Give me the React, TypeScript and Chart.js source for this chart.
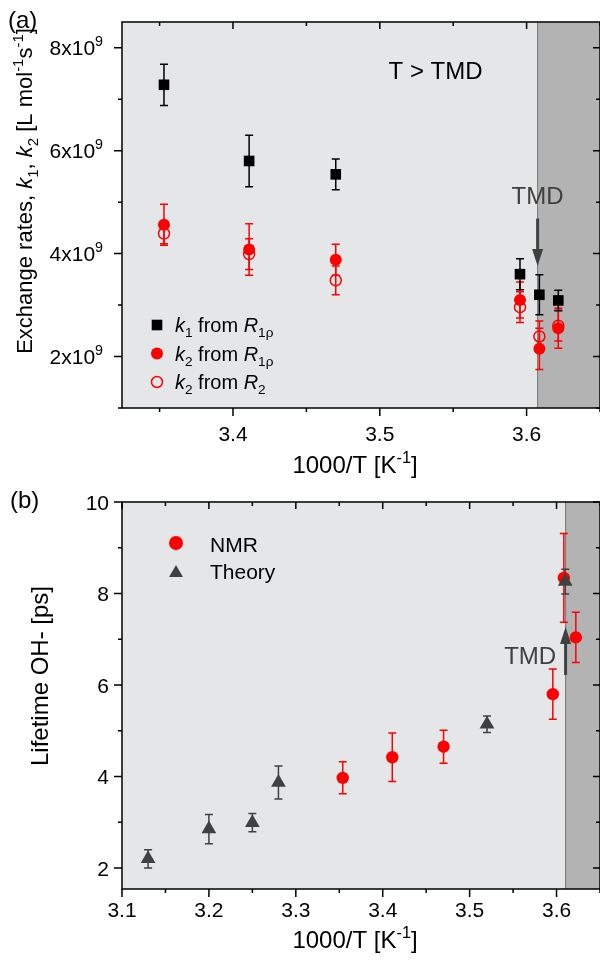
import React, { useEffect, useRef } from "react";
import { Chart, registerables } from "chart.js";

Chart.register(...registerables);

const FONT = "'Liberation Sans', Arial, Helvetica, sans-serif";
const RED = "#ff0000";
const DARK = "#404040";
const LIGHT_BG = "#e5e6e8";
const TMD_BG = "#b3b3b3";

// ---------- Panel (a): exchange rates ----------
const aX = [3.353, 3.411, 3.47, 3.5955, 3.6087, 3.6216];
const aK1 = [7.28e9, 5.8e9, 5.54e9, 3.6e9, 3.2e9, 3.09e9];
const aK1Err = [0.4e9, 0.5e9, 0.3e9, 0.3e9, 0.39e9, 0.2e9];
const aK2R1rho = [4.56e9, 4.08e9, 3.88e9, 3.1e9, 2.15e9, 2.55e9];
const aK2R1rhoErr = [0.4e9, 0.5e9, 0.3e9, 0.35e9, 0.4e9, 0.39e9];
const aK2R2 = [4.39e9, 3.99e9, 3.48e9, 2.96e9, 2.39e9, 2.6e9];
const aK2R2Err = [0.2e9, 0.3e9, 0.28e9, 0.3e9, 0.3e9, 0.3e9];
const aXMin = 3.3244;
const aXMax = 3.65;
const aYMin = 1e9;
const aYMax = 8.5e9;
const aTMD = 3.6075;
const aXTicks = [3.4, 3.5, 3.6];
const aXTickLabels = ["3.4", "3.5", "3.6"];
const aXMinor = [3.35, 3.45, 3.55, 3.65];
const aYTicks = [2e9, 4e9, 6e9, 8e9];
const aYTickLabels = ["2x10", "4x10", "6x10", "8x10"];
const aYTickExp = "9";
const aYMinor = [1e9, 3e9, 5e9, 7e9];

// ---------- Panel (b): lifetime ----------
const bTheoryX = [3.13, 3.2, 3.25, 3.28, 3.52, 3.61];
const bTheoryY = [2.2, 2.85, 2.99, 3.87, 5.14, 8.26];
const bTheoryErr = [0.2, 0.32, 0.2, 0.36, 0.18, 0.27];
const bNmrX = [3.354, 3.411, 3.47, 3.5957, 3.6084, 3.6222];
const bNmrY = [3.97, 4.42, 4.65, 5.8, 8.34, 7.04];
const bNmrErr = [0.35, 0.53, 0.36, 0.55, 0.97, 0.55];
const bXMin = 3.1;
const bXMax = 3.65;
const bYMin = 1.54;
const bYMax = 10;
const bTMD = 3.6104;
const bXTicks = [3.1, 3.2, 3.3, 3.4, 3.5, 3.6];
const bXTickLabels = ["3.1", "3.2", "3.3", "3.4", "3.5", "3.6"];
const bXMinor = [3.15, 3.25, 3.35, 3.45, 3.55, 3.65];
const bYTicks = [2, 4, 6, 8, 10];
const bYTickLabels = ["2", "4", "6", "8", "10"];
const bYMinor = [3, 5, 7, 9];

type Seg = { t: string; i?: boolean; sub?: boolean; sup?: boolean };

function segFont(s: Seg, size: number) {
  const sz = s.sub || s.sup ? size * 0.68 : size;
  return `${s.i ? "italic " : ""}${sz}px ${FONT}`;
}
function richWidth(ctx: CanvasRenderingContext2D, segs: Seg[], size: number) {
  let w = 0;
  for (const s of segs) {
    ctx.font = segFont(s, size);
    w += ctx.measureText(s.t).width;
  }
  return w;
}
function drawRich(
  ctx: CanvasRenderingContext2D,
  segs: Seg[],
  x: number,
  y: number,
  size: number,
  align: "left" | "center" | "right",
  color: string
) {
  const w = richWidth(ctx, segs, size);
  let cx = align === "left" ? x : align === "center" ? x - w / 2 : x - w;
  ctx.save();
  ctx.fillStyle = color;
  ctx.textAlign = "left";
  ctx.textBaseline = "alphabetic";
  for (const s of segs) {
    ctx.font = segFont(s, size);
    const dy = s.sub ? size * 0.25 : s.sup ? -size * 0.42 : 0;
    ctx.fillText(s.t, cx, y + dy);
    cx += ctx.measureText(s.t).width;
  }
  ctx.restore();
}

function drawMarker(ctx: CanvasRenderingContext2D, kind: string, x: number, y: number, r: number, color: string) {
  ctx.save();
  ctx.fillStyle = color;
  ctx.strokeStyle = color;
  ctx.beginPath();
  if (kind === "rect") {
    const h = r * Math.SQRT1_2;
    ctx.rect(x - h, y - h, 2 * h, 2 * h);
    ctx.fill();
  } else if (kind === "circle") {
    ctx.arc(x, y, r, 0, Math.PI * 2);
    ctx.fill();
  } else if (kind === "ring") {
    ctx.lineWidth = 1.5;
    ctx.arc(x, y, r, 0, Math.PI * 2);
    ctx.stroke();
  } else if (kind === "triangle") {
    for (let k = 0; k < 3; k++) {
      const a = (k * 2 * Math.PI) / 3;
      const px = x + Math.sin(a) * r;
      const py = y - Math.cos(a) * r;
      if (k === 0) ctx.moveTo(px, py);
      else ctx.lineTo(px, py);
    }
    ctx.closePath();
    ctx.fill();
  }
  ctx.restore();
}

function drawArrow(ctx: CanvasRenderingContext2D, x: number, y0: number, y1: number, color: string) {
  const dir = y1 > y0 ? 1 : -1;
  const headLen = 17;
  const headW = 5.5;
  ctx.save();
  ctx.strokeStyle = color;
  ctx.fillStyle = color;
  ctx.lineWidth = 3;
  ctx.beginPath();
  ctx.moveTo(x, y0);
  ctx.lineTo(x, y1 - dir * headLen * 0.8);
  ctx.stroke();
  ctx.beginPath();
  ctx.moveTo(x, y1);
  ctx.lineTo(x - headW, y1 - dir * headLen);
  ctx.lineTo(x + headW, y1 - dir * headLen);
  ctx.closePath();
  ctx.fill();
  ctx.restore();
}

type ErrSpec = { ds: number; err: number[]; color: string };
type PanelOpts = {
  tmd: number;
  errs: ErrSpec[];
  xTicks: number[];
  xLabels: string[];
  xMinor: number[];
  yTicks: number[];
  yLabels: Seg[][];
  yMinor: number[];
  yLabelSize: number;
  xLabelBase: number;
  xTitleBase: number;
  yLabelRight: number;
  xTitle: Seg[];
  xTitleX: number;
  yTitle: Seg[];
  yTitleSize: number;
  yTitleX: number;
  yTitleY: number;
  panelLabel: string;
  panelLabelX: number;
  panelLabelY: number;
  extra: (ctx: CanvasRenderingContext2D, chart: any) => void;
};

function makePlugin(o: PanelOpts) {
  return {
    id: "panelDecor",
    beforeDatasetsDraw(chart: any) {
      const ctx: CanvasRenderingContext2D = chart.ctx;
      const ca = chart.chartArea;
      const xs = chart.scales.x;
      const ys = chart.scales.y;
      ctx.save();
      ctx.fillStyle = LIGHT_BG;
      ctx.fillRect(ca.left, ca.top, ca.right - ca.left, ca.bottom - ca.top);
      const tx = xs.getPixelForValue(o.tmd);
      ctx.fillStyle = TMD_BG;
      ctx.fillRect(tx, ca.top, ca.right - tx, ca.bottom - ca.top);
      ctx.strokeStyle = "#777777";
      ctx.lineWidth = 1;
      ctx.beginPath();
      ctx.moveTo(tx, ca.top);
      ctx.lineTo(tx, ca.bottom);
      ctx.stroke();
      // error bars
      ctx.beginPath();
      ctx.rect(ca.left, ca.top, ca.right - ca.left, ca.bottom - ca.top);
      ctx.clip();
      ctx.lineWidth = 1.5;
      for (const spec of o.errs) {
        const data = chart.data.datasets[spec.ds].data;
        ctx.strokeStyle = spec.color;
        data.forEach((p: any, i: number) => {
          const e = spec.err[i];
          const px = xs.getPixelForValue(p.x);
          const yt = ys.getPixelForValue(p.y + e);
          const yb = ys.getPixelForValue(p.y - e);
          ctx.beginPath();
          ctx.moveTo(px, yt);
          ctx.lineTo(px, yb);
          ctx.moveTo(px - 4, yt);
          ctx.lineTo(px + 4, yt);
          ctx.moveTo(px - 4, yb);
          ctx.lineTo(px + 4, yb);
          ctx.stroke();
        });
      }
      ctx.restore();
    },
    afterDatasetsDraw(chart: any) {
      const ctx: CanvasRenderingContext2D = chart.ctx;
      o.extra(ctx, chart);
    },
    afterDraw(chart: any) {
      const ctx: CanvasRenderingContext2D = chart.ctx;
      const ca = chart.chartArea;
      const xs = chart.scales.x;
      const ys = chart.scales.y;
      ctx.save();
      ctx.strokeStyle = "#000";
      ctx.lineWidth = 1.5;
      ctx.strokeRect(ca.left, ca.top, ca.right - ca.left, ca.bottom - ca.top);
      ctx.beginPath();
      const tick = (vals: number[], major: boolean) => ({ outL: major ? 8 : 4, inL: major ? 7 : 4, vals });
      for (const t of [tick(o.xTicks, true), tick(o.xMinor, false)]) {
        for (const v of t.vals) {
          const px = xs.getPixelForValue(v);
          if (px < ca.left - 0.5 || px > ca.right + 0.5) continue;
          ctx.moveTo(px, ca.bottom);
          ctx.lineTo(px, ca.bottom + t.outL);
          ctx.moveTo(px, ca.top);
          ctx.lineTo(px, ca.top + t.inL);
        }
      }
      for (const t of [tick(o.yTicks, true), tick(o.yMinor, false)]) {
        for (const v of t.vals) {
          const py = ys.getPixelForValue(v);
          ctx.moveTo(ca.left - t.outL, py);
          ctx.lineTo(ca.left, py);
          ctx.moveTo(ca.right - t.inL, py);
          ctx.lineTo(ca.right, py);
        }
      }
      ctx.stroke();
      ctx.restore();

      // tick labels
      o.xTicks.forEach((v, i) => {
        drawRich(ctx, [{ t: o.xLabels[i] }], xs.getPixelForValue(v), ca.bottom + o.xLabelBase, 21, "center", "#000");
      });
      o.yTicks.forEach((v, i) => {
        drawRich(ctx, o.yLabels[i], o.yLabelRight, ys.getPixelForValue(v) + o.yLabelSize * 0.36, o.yLabelSize, "right", "#000");
      });
      // axis titles
      drawRich(ctx, o.xTitle, o.xTitleX, ca.bottom + o.xTitleBase, 24, "center", "#000");
      ctx.save();
      ctx.translate(o.yTitleX, o.yTitleY);
      ctx.rotate(-Math.PI / 2);
      drawRich(ctx, o.yTitle, 0, 0, o.yTitleSize, "center", "#000");
      ctx.restore();
      drawRich(ctx, [{ t: o.panelLabel }], o.panelLabelX, o.panelLabelY, 24, "left", "#000");
    },
  };
}

const xTitleSegs: Seg[] = [{ t: "1000/T [K" }, { t: "-1", sup: true }, { t: "]" }];

const commonOptions = (xMin: number, xMax: number, yMin: number, yMax: number): any => ({
  responsive: false,
  animation: false,
  layout: { padding: { left: 122, top: 22, right: 0, bottom: 72 }, autoPadding: false },
  plugins: { legend: { display: false }, tooltip: { enabled: false } },
  scales: {
    x: { type: "linear", min: xMin, max: xMax, display: false },
    y: { type: "linear", min: yMin, max: yMax, display: false },
  },
});

function PanelA() {
  const ref = useRef<HTMLCanvasElement>(null);
  useEffect(() => {
    const plugin = makePlugin({
      tmd: aTMD,
      errs: [
        { ds: 2, err: aK2R2Err, color: RED },
        { ds: 1, err: aK2R1rhoErr, color: RED },
        { ds: 0, err: aK1Err, color: "#000" },
      ],
      xTicks: aXTicks,
      xLabels: aXTickLabels,
      xMinor: aXMinor,
      yTicks: aYTicks,
      yLabels: aYTickLabels.map((l) => [{ t: l }, { t: aYTickExp, sup: true }]),
      yMinor: aYMinor,
      yLabelSize: 21,
      xLabelBase: 33,
      xTitleBase: 65,
      yLabelRight: 103,
      xTitle: xTitleSegs,
      xTitleX: 355,
      yTitle: [
        { t: "Exchange rates, " },
        { t: "k", i: true },
        { t: "1", sub: true },
        { t: ", " },
        { t: "k", i: true },
        { t: "2", sub: true },
        { t: " [L mol" },
        { t: "-1", sup: true },
        { t: "s" },
        { t: "-1", sup: true },
        { t: "]" },
      ],
      yTitleSize: 22,
      yTitleX: 32,
      yTitleY: 191,
      panelLabel: "(a)",
      panelLabelX: 8,
      panelLabelY: 28,
      extra: (ctx, chart) => {
        const xs = chart.scales.x;
        const ys = chart.scales.y;
        drawRich(ctx, [{ t: "T > TMD" }], xs.getPixelForValue(3.538), ys.getPixelForValue(7.4e9), 24, "center", "#000");
        drawRich(ctx, [{ t: "TMD" }], xs.getPixelForValue(aTMD), ys.getPixelForValue(4.97e9), 24, "center", DARK);
        drawArrow(ctx, xs.getPixelForValue(aTMD), ys.getPixelForValue(4.68e9), ys.getPixelForValue(3.76e9), DARK);
        // legend
        const lx = 157;
        const rows: { kind: string; r: number; color: string; segs: Seg[]; y: number }[] = [
          { kind: "rect", r: 7.5, color: "#000", y: 325, segs: [{ t: "k", i: true }, { t: "1", sub: true }, { t: " from " }, { t: "R", i: true }, { t: "1\u03c1", sub: true }] },
          { kind: "circle", r: 6, color: RED, y: 353.5, segs: [{ t: "k", i: true }, { t: "2", sub: true }, { t: " from " }, { t: "R", i: true }, { t: "1\u03c1", sub: true }] },
          { kind: "ring", r: 5.5, color: RED, y: 382, segs: [{ t: "k", i: true }, { t: "2", sub: true }, { t: " from " }, { t: "R", i: true }, { t: "2", sub: true }] },
        ];
        for (const row of rows) {
          drawMarker(ctx, row.kind, lx, row.y, row.r, row.color);
          drawRich(ctx, row.segs, 175, row.y + 7, 20, "left", "#000");
        }
      },
    });
    const chart = new Chart(ref.current!, {
      type: "scatter",
      data: {
        datasets: [
          {
            label: "k1 from R1rho",
            data: aX.map((x, i) => ({ x, y: aK1[i] })),
            pointStyle: "rect",
            pointRadius: 7.5,
            backgroundColor: "#000",
            borderWidth: 0,
          },
          {
            label: "k2 from R1rho",
            data: aX.map((x, i) => ({ x, y: aK2R1rho[i] })),
            pointStyle: "circle",
            pointRadius: 6,
            backgroundColor: RED,
            borderWidth: 0,
          },
          {
            label: "k2 from R2",
            data: aX.map((x, i) => ({ x, y: aK2R2[i] })),
            pointStyle: "circle",
            pointRadius: 5.5,
            backgroundColor: "rgba(0,0,0,0)",
            borderColor: RED,
            borderWidth: 1.5,
          },
        ],
      },
      options: commonOptions(aXMin, aXMax, aYMin, aYMax),
      plugins: [plugin],
    });
    return () => chart.destroy();
  }, []);
  return <canvas ref={ref} width={600} height={480} style={{ position: "absolute", left: 0, top: 0 }} />;
}

function PanelB() {
  const ref = useRef<HTMLCanvasElement>(null);
  useEffect(() => {
    const plugin = makePlugin({
      tmd: bTMD,
      errs: [
        { ds: 1, err: bNmrErr, color: RED },
        { ds: 0, err: bTheoryErr, color: DARK },
      ],
      xTicks: bXTicks,
      xLabels: bXTickLabels,
      xMinor: bXMinor,
      yTicks: bYTicks,
      yLabels: bYTickLabels.map((l) => [{ t: l }]),
      yMinor: bYMinor,
      yLabelSize: 21,
      xLabelBase: 28,
      xTitleBase: 59,
      yLabelRight: 109,
      xTitle: xTitleSegs,
      xTitleX: 355,
      yTitle: [{ t: "Lifetime OH- [ps]" }],
      yTitleSize: 24,
      yTitleX: 48,
      yTitleY: 196,
      panelLabel: "(b)",
      panelLabelX: 10,
      panelLabelY: 28,
      extra: (ctx, chart) => {
        const xs = chart.scales.x;
        const ys = chart.scales.y;
        drawRich(ctx, [{ t: "TMD" }], xs.getPixelForValue(3.5995), ys.getPixelForValue(6.46), 24, "right", DARK);
        drawArrow(ctx, xs.getPixelForValue(bTMD), ys.getPixelForValue(6.22), ys.getPixelForValue(7.27), DARK);
        drawMarker(ctx, "circle", 176, 63, 7, RED);
        drawRich(ctx, [{ t: "NMR" }], 210, 72, 21, "left", "#000");
        drawMarker(ctx, "triangle", 176, 93, 8, DARK);
        drawRich(ctx, [{ t: "Theory" }], 210, 98.5, 21, "left", "#000");
      },
    });
    const chart = new Chart(ref.current!, {
      type: "scatter",
      data: {
        datasets: [
          {
            label: "Theory",
            data: bTheoryX.map((x, i) => ({ x, y: bTheoryY[i] })),
            pointStyle: "triangle",
            pointRadius: 8.5,
            backgroundColor: DARK,
            borderWidth: 0,
          },
          {
            label: "NMR",
            data: bNmrX.map((x, i) => ({ x, y: bNmrY[i] })),
            pointStyle: "circle",
            pointRadius: 6.2,
            backgroundColor: RED,
            borderWidth: 0,
          },
        ],
      },
      options: commonOptions(bXMin, bXMax, bYMin, bYMax),
      plugins: [plugin],
    });
    return () => chart.destroy();
  }, []);
  return <canvas ref={ref} width={600} height={481} style={{ position: "absolute", left: 0, top: 480 }} />;
}

export default function App() {
  return (
    <div style={{ position: "fixed", left: 0, top: 0, width: 600, height: 961, background: "#fff", overflow: "hidden" }}>
      <PanelA />
      <PanelB />
    </div>
  );
}
